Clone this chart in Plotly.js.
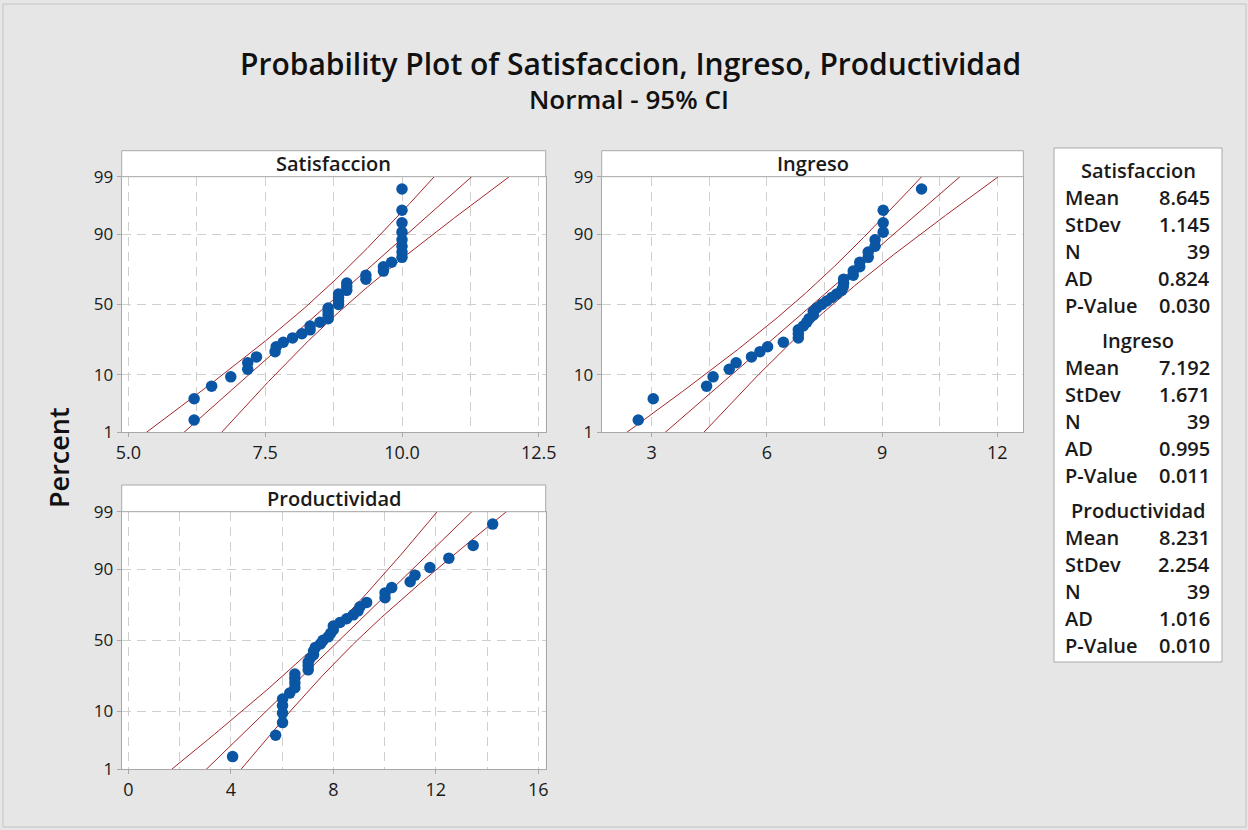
<!DOCTYPE html>
<html><head><meta charset="utf-8">
<script src="https://cdn.plot.ly/plotly-3.0.1.min.js"></script>
<style>html,body{margin:0;padding:0;background:#E6E6E6}</style>
</head><body>
<div id="chart" style="width:1248px;height:830px"></div>
<script>
const variables = ['Satisfaccion', 'Ingreso', 'Productividad'];
const satisfaccion = [6.2,6.2,6.52,6.87,7.18,7.18,7.34,7.68,7.7,7.83,8.0,8.17,8.32,8.32,8.5,8.65,8.65,8.65,8.65,8.84,8.84,8.84,8.84,8.99,8.99,8.99,9.34,9.34,9.66,9.66,9.81,10,10,10,10,10,10,10,10];
const ingreso = [2.65,3.04,4.43,4.6,5.02,5.2,5.6,5.82,6.02,6.43,6.82,6.82,6.82,6.95,7.04,7.1,7.21,7.21,7.3,7.43,7.56,7.69,7.82,7.95,7.99,8.0,8.0,8.25,8.25,8.42,8.42,8.64,8.64,8.82,8.82,9.03,9.03,9.03,10.03];
const productividad = [4.07,5.75,6.02,6.02,6.02,6.02,6.3,6.5,6.5,6.5,6.5,7.02,7.02,7.02,7.1,7.23,7.23,7.3,7.5,7.6,7.8,7.9,8.0,8.0,8.26,8.52,8.78,8.97,9.04,9.3,10.02,10.02,10.28,11.0,11.19,11.77,12.51,13.46,14.22];
const means = [8.645, 7.192, 8.231];
const stdevs = [1.145, 1.671, 2.254];
const counts = [39, 39, 39];
const adValues = [0.824, 0.995, 1.016];
const pValues = [0.030, 0.011, 0.010];
const percentTicks = [1, 10, 50, 90, 99];
const statLabels = ['Mean', 'StDev', 'N', 'AD', 'P-Value'];

// ---- helpers ----
function qnorm(p) {
  const a=[-3.969683028665376e+01,2.209460984245205e+02,-2.759285104469687e+02,1.383577518672690e+02,-3.066479806614716e+01,2.506628277459239e+00];
  const b=[-5.447609879822406e+01,1.615858368580409e+02,-1.556989798598866e+02,6.680131188771972e+01,-1.328068155288572e+01];
  const c=[-7.784894002430293e-03,-3.223964580411365e-01,-2.400758277161838e+00,-2.549671010229838e+00,4.374664141464968e+00,2.938163982698783e+00];
  const d=[7.784695709041462e-03,3.224671290700398e-01,2.445134137142996e+00,3.754408661907416e+00];
  const pl=0.02425, ph=1-pl; let q,r;
  if (p<pl){q=Math.sqrt(-2*Math.log(p));return (((((c[0]*q+c[1])*q+c[2])*q+c[3])*q+c[4])*q+c[5])/((((d[0]*q+d[1])*q+d[2])*q+d[3])*q+1);}
  if (p>ph){q=Math.sqrt(-2*Math.log(1-p));return -(((((c[0]*q+c[1])*q+c[2])*q+c[3])*q+c[4])*q+c[5])/((((d[0]*q+d[1])*q+d[2])*q+d[3])*q+1);}
  q=p-0.5; r=q*q;
  return (((((a[0]*r+a[1])*r+a[2])*r+a[3])*r+a[4])*r+a[5])*q/(((((b[0]*r+b[1])*r+b[2])*r+b[3])*r+b[4])*r+1);
}
const W = 1248, H = 830;
const px = v => v / W, py = v => 1 - v / H;
const FONT = 'Open Sans, Noto Sans, sans-serif';
const series = [satisfaccion, ingreso, productividad];
const panels = [
  {xd:[121.7,545.7], yd:[176.7,432.3], hdr:150.7, xr:[4.876,12.627], dtick:2.5, minor:1.25, fmt:'.1f'},
  {xd:[601.7,1023.3], yd:[176.7,432.3], hdr:150.7, xr:[1.698,12.68], dtick:3, minor:1.5, fmt:'d'},
  {xd:[121.7,545.7], yd:[511.7,769], hdr:485, xr:[-0.258,16.29], dtick:4, minor:2, fmt:'d'}
];
const zLo = qnorm(0.01), zHi = qnorm(0.99);
const lineColor = '#A3262B', dotColor = '#0B56A4', frameColor = '#A8A8A8', gridColor = '#CFCFCF';
const txt = '#1A1A1A';

const traces = [], shapes = [], annotations = [];
const layout = {
  width: W, height: H, margin:{l:0,r:0,t:0,b:0},
  paper_bgcolor:'#E6E6E6', plot_bgcolor:'#FFFFFF', showlegend:false,
  font:{family:FONT, color:txt}
};

panels.forEach((p, k) => {
  const sfx = k === 0 ? '' : String(k+1);
  const data = series[k];
  const n = data.length;
  const zs = data.map((_, i) => qnorm((i + 1 - 0.3) / (n + 0.4)));
  // fitted line and 95% CI (ML sigma)
  const mu = means[k], sig = stdevs[k] * Math.sqrt((counts[k]-1)/counts[k]);
  const zz = []; for (let z = -2.6; z <= 2.6001; z += 0.02) zz.push(z);
  const fit = zz.map(z => mu + sig*z);
  const se = zz.map(z => 1.96*sig*Math.sqrt(1/n + z*z/(2*n)));
  const lineStyle = {color:lineColor, width:1};
  const xa = 'x'+sfx, ya = 'y'+sfx;
  traces.push({x: fit.map((v,i)=>v-se[i]), y: zz, mode:'lines', line:lineStyle, xaxis:xa, yaxis:ya, hoverinfo:'skip'});
  traces.push({x: fit, y: zz, mode:'lines', line:lineStyle, xaxis:xa, yaxis:ya, hoverinfo:'skip'});
  traces.push({x: fit.map((v,i)=>v+se[i]), y: zz, mode:'lines', line:lineStyle, xaxis:xa, yaxis:ya, hoverinfo:'skip'});
  traces.push({x: data, y: zs, mode:'markers', marker:{color:dotColor, size:11.5}, xaxis:xa, yaxis:ya, name:variables[k]});

  layout['xaxis'+sfx] = {
    domain:[px(p.xd[0]), px(p.xd[1])], range:p.xr, anchor:ya,
    tickmode:'linear', tick0:0, dtick:p.dtick, tickformat:p.fmt,
    showgrid:true, gridcolor:gridColor, griddash:'9px,6px', gridwidth:1,
    minor:{dtick:p.minor, tick0:0, showgrid:true, gridcolor:gridColor, griddash:'9px,6px', ticks:''},
    showline:true, mirror:true, linecolor:frameColor, linewidth:1,
    ticks:'outside', ticklen:4, tickcolor:frameColor, zeroline:false,
    tickfont:{family:FONT, size:18, color:txt}, fixedrange:true
  };
  layout['yaxis'+sfx] = {
    domain:[py(p.yd[1]), py(p.yd[0])], range:[zLo, zHi], anchor:xa,
    tickmode:'array', tickvals: percentTicks.map(v => qnorm(v/100)), ticktext: percentTicks.map(String),
    showgrid:true, gridcolor:gridColor, griddash:'9px,6px', gridwidth:1,
    showline:true, mirror:true, linecolor:frameColor, linewidth:1,
    ticks:'outside', ticklen:4, tickcolor:frameColor, zeroline:false,
    tickfont:{family:FONT, size:17, color:txt}, fixedrange:true
  };
  // panel header strip
  shapes.push({type:'rect', xref:'paper', yref:'paper', x0:px(p.xd[0]), x1:px(p.xd[1]), y0:py(p.yd[0]), y1:py(p.hdr),
    fillcolor:'#FFFFFF', line:{color:frameColor, width:1}});
  annotations.push({xref:'paper', yref:'paper', x:px((p.xd[0]+p.xd[1])/2), y:py((p.hdr+p.yd[0])/2),
    text:variables[k], showarrow:false, xanchor:'center', yanchor:'middle',
    font:{family:FONT, size:20, weight:600, color:txt}});
});

// outer frame
shapes.push({type:'rect', xref:'paper', yref:'paper', x0:px(3), x1:px(1246), y0:py(827), y1:py(4), line:{color:'#C4C4C4', width:1}, fillcolor:'rgba(0,0,0,0)', layer:'below'});
// stats box
const box = {x0:1054, x1:1222, y0:148, y1:662};
shapes.push({type:'rect', xref:'paper', yref:'paper', x0:px(box.x0), x1:px(box.x1), y0:py(box.y1), y1:py(box.y0),
  fillcolor:'#FFFFFF', line:{color:frameColor, width:1}});
variables.forEach((v, k) => {
  const y0 = 170 + 170*k;
  annotations.push({xref:'paper', yref:'paper', x:px((box.x0+box.x1)/2), y:py(y0), text:v, showarrow:false,
    xanchor:'center', yanchor:'middle', font:{family:FONT, size:20, weight:600, color:txt}});
  const vals = [means[k].toFixed(3), stdevs[k].toFixed(3), String(counts[k]), adValues[k].toFixed(3), pValues[k].toFixed(3)];
  statLabels.forEach((lab, j) => {
    const yy = y0 + 27*(j+1);
    annotations.push({xref:'paper', yref:'paper', x:px(1063), y:py(yy), text:lab, showarrow:false,
      xanchor:'left', yanchor:'middle', font:{family:FONT, size:20, weight:600, color:txt}});
    annotations.push({xref:'paper', yref:'paper', x:px(1212), y:py(yy), text:vals[j], showarrow:false,
      xanchor:'right', yanchor:'middle', font:{family:FONT, size:20, weight:600, color:txt}});
  });
});
// titles
annotations.push({xref:'paper', yref:'paper', x:px(630), y:py(63), text:'Probability Plot of Satisfaccion, Ingreso, Productividad',
  showarrow:false, xanchor:'center', yanchor:'middle', font:{family:FONT, size:30, weight:600, color:'#111'}});
annotations.push({xref:'paper', yref:'paper', x:px(629), y:py(99), text:'Normal - 95% CI',
  showarrow:false, xanchor:'center', yanchor:'middle', font:{family:FONT, size:26, weight:600, color:'#111'}});
annotations.push({xref:'paper', yref:'paper', x:px(58), y:py(458), text:'Percent', textangle:-90,
  showarrow:false, xanchor:'center', yanchor:'middle', font:{family:FONT, size:27, weight:600, color:'#111'}});

layout.shapes = shapes;
layout.annotations = annotations;
Plotly.newPlot('chart', traces, layout, {displayModeBar:false, staticPlot:true});
</script>
</body></html>
